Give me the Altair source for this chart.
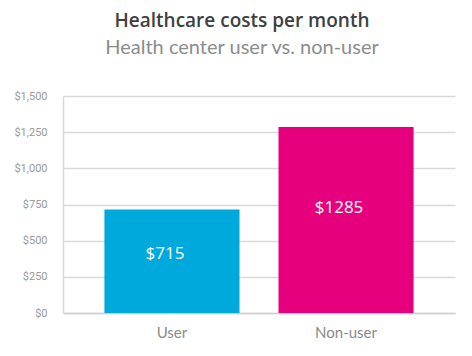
import altair as alt
import pandas as pd

categories = ["User", "Non-user"]
values = [715, 1285]
labels = ["$715", "$1285"]
colors = ["#00a9db", "#e6007e"]
y_ticks = [0, 250, 500, 750, 1000, 1250, 1500]

df = pd.DataFrame({"group": categories, "cost": values, "label": labels})

x_axis = alt.Axis(labelAngle=0, labelFont="Lato", labelFontSize=15,
                  labelColor="#8a8a8a", labelPadding=12, ticks=False,
                  domainColor="#d0d0d0", domainWidth=1.5)
y_axis = alt.Axis(values=y_ticks, format="$,.0f", labelFont="Roboto",
                  labelFontSize=11, labelColor="#9a9a9a", labelPadding=16,
                  labelOverlap=False, ticks=False, grid=True,
                  gridColor="#d9d9d9", gridWidth=1.5,
                  domain=True, domainColor="#d9d9d9", domainWidth=1.5)
x_scale = alt.Scale(paddingInner=0.224, paddingOuter=0.238)
y_scale = alt.Scale(domain=[0, 1500], nice=False)

bars = alt.Chart(df).mark_bar().encode(
    x=alt.X("group:N", sort=categories, title=None, scale=x_scale, axis=x_axis),
    y=alt.Y("cost:Q", title=None, scale=y_scale, axis=y_axis),
    color=alt.Color("group:N", scale=alt.Scale(domain=categories, range=colors), legend=None),
)

text = alt.Chart(df).transform_calculate(
    ypos="datum.cost * 0.567"
).mark_text(color="white", font="Open Sans", fontSize=17, baseline="middle", dx=-7).encode(
    x=alt.X("group:N", sort=categories, title=None, scale=x_scale, axis=x_axis),
    y=alt.Y("ypos:Q", title=None, scale=y_scale, axis=y_axis),
    text="label:N",
)

chart = (bars + text).properties(
    width=392,
    height=217,
    padding={"left": 55, "top": 88, "right": 9, "bottom": 35},
    autosize=alt.AutoSizeParams(type="none"),
    title=alt.Title(
        "Healthcare costs per month",
        subtitle="Health center user vs. non-user",
        font="Open Sans", fontSize=19, fontWeight=600, color="#404040",
        subtitleFont="Lato", subtitleFontSize=20, subtitleColor="#8c8c8c",
        subtitlePadding=7, anchor="middle", dx=-17, dy=-1, offset=31,
    ),
).configure_view(stroke=None)

chart.save("out.html", embed_options={"renderer": "svg", "actions": False})
